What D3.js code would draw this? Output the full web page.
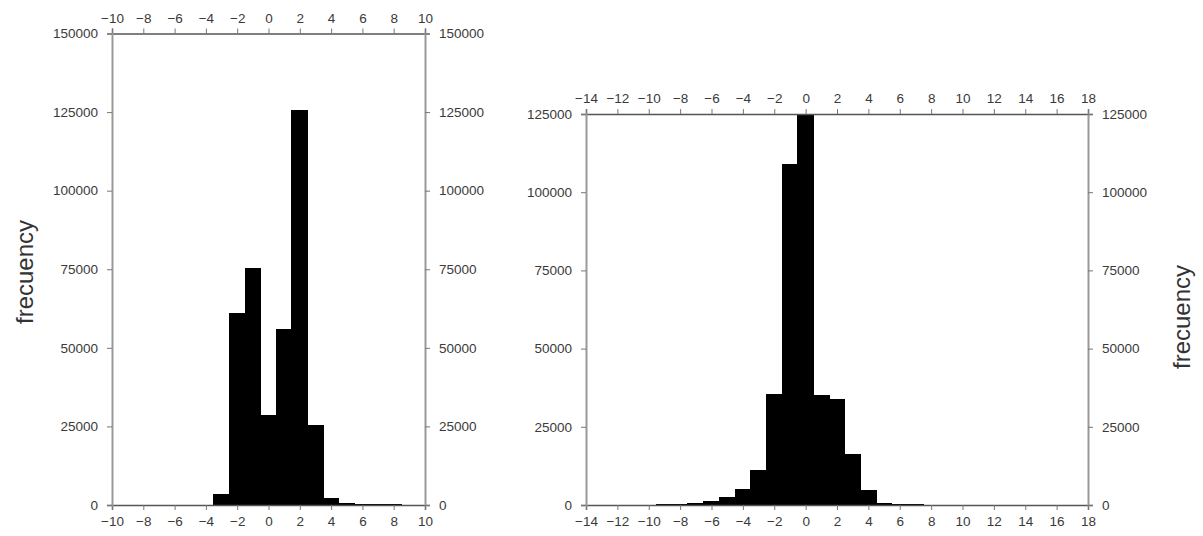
<!DOCTYPE html>
<html>
<head>
<meta charset="utf-8">
<script src="https://cdn.jsdelivr.net/npm/d3@7"></script>
<style>
  body { margin: 0; background: #fff; }
  svg { display: block; font-family: "Liberation Sans", Arial, sans-serif; }
  .tick text { fill: #3a3a3a; font-size: 13.5px; }
  .tick line { stroke: #777; }
</style>
</head>
<body>
<svg id="chart" width="1203" height="536"></svg>
<script>
// left histogram: bin centres and counts
const leftBins = [-3, -2, -1, 0, 1, 2, 3, 4, 5, 6, 7, 8];
const leftCounts = [3400, 61000, 75200, 28400, 55800, 125500, 25300, 2100, 600, 300, 200, 100];
const leftXTicks = [-10, -8, -6, -4, -2, 0, 2, 4, 6, 8, 10];
const leftYTicks = [0, 25000, 50000, 75000, 100000, 125000, 150000];

// right histogram
const rightBins = [-9, -8, -7, -6, -5, -4, -3, -2, -1, 0, 1, 2, 3, 4, 5, 6, 7];
const rightCounts = [50, 150, 400, 1100, 2500, 5100, 11000, 35200, 108700, 124800, 34900, 33600, 16000, 4600, 600, 150, 50];
const rightXTicks = [-14, -12, -10, -8, -6, -4, -2, 0, 2, 4, 6, 8, 10, 12, 14, 16, 18];
const rightYTicks = [0, 25000, 50000, 75000, 100000, 125000];

const svg = d3.select("#chart");

function drawPanel(p) {
  const x = d3.scaleLinear().domain(p.xDomain).range([p.left, p.right]);
  const y = d3.scaleLinear().domain(p.yDomain).range([p.bottom, p.top]);
  const g = svg.append("g");

  g.selectAll("rect.bar")
    .data(p.bins.map((b, i) => ({ b: b, v: p.counts[i] })))
    .join("rect")
    .attr("class", "bar")
    .attr("x", d => x(d.b - 0.5))
    .attr("width", d => x(d.b + 0.5) - x(d.b - 0.5))
    .attr("y", d => y(d.v))
    .attr("height", d => y(0) - y(d.v))
    .attr("fill", "#000")
    .attr("stroke", "#000")
    .attr("stroke-width", 1)
    .attr("shape-rendering", "crispEdges");

  const fmt = d3.format("d");
  const xb = g.append("g").attr("transform", "translate(0," + p.bottom + ")")
    .call(d3.axisBottom(x).tickValues(p.xTicks).tickSize(5).tickPadding(6));
  const xt = g.append("g").attr("transform", "translate(0," + p.top + ")")
    .call(d3.axisTop(x).tickValues(p.xTicks).tickSize(5).tickPadding(6));
  const yl = g.append("g").attr("transform", "translate(" + p.left + ",0)")
    .call(d3.axisLeft(y).tickValues(p.yTicks).tickFormat(fmt).tickSize(5).tickPadding(9));
  const yr = g.append("g").attr("transform", "translate(" + p.right + ",0)")
    .call(d3.axisRight(y).tickValues(p.yTicks).tickFormat(fmt).tickSize(5).tickPadding(9));

  [xb, xt].forEach(a => a.select(".domain").attr("stroke", "#555").attr("stroke-width", 1.5));
  [yl, yr].forEach(a => a.select(".domain").attr("stroke", "#999").attr("stroke-width", 2));
  g.selectAll("text").attr("font-family", null).attr("font-size", null);

  svg.append("text")
    .attr("transform", "translate(" + p.labelX + "," + p.labelY + ") rotate(-90)")
    .attr("text-anchor", "middle")
    .attr("dominant-baseline", "central")
    .attr("font-size", 24)
    .attr("fill", "#333")
    .text("frecuency");
}

drawPanel({
  bins: leftBins, counts: leftCounts, xTicks: leftXTicks, yTicks: leftYTicks,
  xDomain: [-10, 10], yDomain: [0, 150000],
  left: 112, right: 425, top: 33.5, bottom: 505,
  labelX: 24, labelY: 272
});

drawPanel({
  bins: rightBins, counts: rightCounts, xTicks: rightXTicks, yTicks: rightYTicks,
  xDomain: [-14, 18], yDomain: [0, 125000],
  left: 586, right: 1088, top: 114, bottom: 505,
  labelX: 1181, labelY: 317
});
</script>
</body>
</html>
